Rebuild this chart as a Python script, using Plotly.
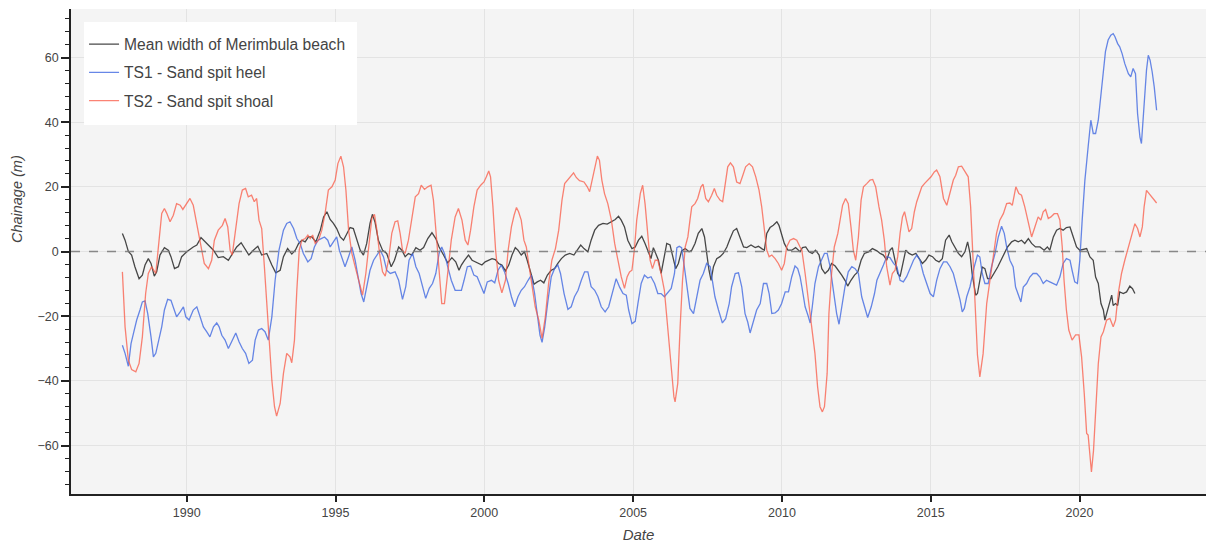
import pandas as pd
import plotly.graph_objects as go

# Series readings: (decimal year, chainage in metres)
mean_width = [
    (1987.84, 5.6), (1987.93, 3.5), (1988.04, 0.0), (1988.15, -1.1), (1988.26, -4.7), (1988.40, -8.4),
    (1988.51, -7.3), (1988.60, -4.2), (1988.71, -2.2), (1988.80, -3.7), (1988.91, -7.6), (1988.99, -6.3),
    (1989.10, -1.1), (1989.25, 1.2), (1989.38, 0.4), (1989.47, -1.6), (1989.59, -5.3), (1989.72, -4.7),
    (1989.83, -1.6), (1990.00, -0.1), (1990.22, 1.4), (1990.34, 2.0), (1990.48, 4.3), (1990.62, 3.0),
    (1990.78, 1.4), (1990.90, 0.4), (1991.06, -1.9), (1991.23, -1.6), (1991.40, -2.7), (1991.53, -0.8),
    (1991.68, 1.4), (1991.83, 2.7), (1991.96, 0.9), (1992.09, -1.1), (1992.24, 0.4), (1992.39, 1.6),
    (1992.52, -1.1), (1992.69, -0.6), (1992.86, -4.2), (1992.99, -6.6), (1993.14, -5.8), (1993.25, -1.6),
    (1993.39, 0.9), (1993.53, -0.8), (1993.65, 0.4), (1993.76, 2.5), (1993.87, 3.5), (1993.98, 3.0),
    (1994.09, 4.5), (1994.20, 4.5), (1994.34, 3.0), (1994.49, 6.6), (1994.60, 10.7), (1994.71, 12.3),
    (1994.82, 9.9), (1994.93, 8.7), (1995.04, 7.1), (1995.16, 4.5), (1995.27, 3.5), (1995.38, 5.6),
    (1995.49, 7.4), (1995.60, 7.1), (1995.72, 3.5), (1995.83, 0.4), (1995.94, -1.1), (1996.05, 2.5),
    (1996.16, 8.7), (1996.24, 11.5), (1996.33, 9.0), (1996.44, 3.5), (1996.58, 0.4), (1996.72, -0.6),
    (1996.87, -4.7), (1996.98, -2.7), (1997.12, 1.4), (1997.23, 0.4), (1997.34, -1.6), (1997.45, -0.6),
    (1997.56, -1.1), (1997.70, 1.2), (1997.84, 0.4), (1997.96, 1.2), (1998.10, 4.0), (1998.24, 5.8),
    (1998.37, 4.0), (1998.48, 1.4), (1998.63, -1.1), (1998.77, -3.5), (1998.91, -1.9), (1999.04, -3.2),
    (1999.15, -5.8), (1999.23, -4.2), (1999.34, -2.7), (1999.47, -1.1), (1999.59, -2.7), (1999.70, -3.2),
    (1999.81, -3.7), (1999.92, -4.2), (2000.03, -3.2), (2000.15, -2.7), (2000.26, -2.2), (2000.37, -2.5),
    (2000.48, -3.7), (2000.59, -4.2), (2000.71, -6.0), (2000.82, -4.2), (2000.93, -1.1), (2001.04, 1.2),
    (2001.13, 0.4), (2001.24, -1.1), (2001.35, -0.1), (2001.44, -2.7), (2001.56, -6.8), (2001.67, -10.1),
    (2001.78, -9.4), (2001.89, -8.9), (2002.00, -9.7), (2002.12, -7.3), (2002.25, -5.8), (2002.36, -5.3),
    (2002.47, -3.7), (2002.59, -2.2), (2002.72, -1.1), (2002.87, -0.6), (2003.01, -1.1), (2003.15, 0.9),
    (2003.24, 2.0), (2003.35, 0.9), (2003.48, -0.1), (2003.59, 3.5), (2003.71, 6.6), (2003.84, 8.1),
    (2003.99, 8.7), (2004.13, 8.5), (2004.27, 9.2), (2004.40, 9.9), (2004.51, 10.9), (2004.60, 9.7),
    (2004.71, 7.6), (2004.82, 3.5), (2004.96, 0.9), (2005.07, 1.4), (2005.18, 3.5), (2005.29, 4.7),
    (2005.40, 2.5), (2005.52, -0.6), (2005.60, -2.2), (2005.68, 1.2), (2005.76, -0.6), (2005.85, -2.7),
    (2005.94, -6.8), (2006.02, -2.7), (2006.13, 2.5), (2006.24, 2.0), (2006.35, -2.7), (2006.43, -5.3),
    (2006.52, -3.7), (2006.63, 0.2), (2006.75, 0.9), (2006.88, -0.1), (2006.97, 0.4), (2007.08, 2.5),
    (2007.19, 5.6), (2007.31, 7.1), (2007.40, 4.5), (2007.47, -0.6), (2007.55, -5.8), (2007.62, -8.9),
    (2007.70, -4.7), (2007.81, -2.2), (2007.92, -1.6), (2008.03, -0.6), (2008.15, 1.4), (2008.26, 4.0),
    (2008.37, 6.4), (2008.48, 7.1), (2008.59, 4.5), (2008.71, 1.4), (2008.82, 1.2), (2008.96, 2.0),
    (2009.10, 1.2), (2009.21, 1.6), (2009.32, 0.9), (2009.41, 0.4), (2009.49, 5.6), (2009.60, 7.4),
    (2009.71, 8.1), (2009.83, 9.2), (2009.90, 8.1), (2009.99, 5.1), (2010.08, 2.5), (2010.20, 0.4),
    (2010.33, 0.4), (2010.46, 1.2), (2010.61, -0.1), (2010.69, 1.2), (2010.80, 1.4), (2010.91, -0.1),
    (2011.02, -0.6), (2011.13, 0.4), (2011.25, -1.1), (2011.34, -5.3), (2011.45, -6.8), (2011.56, -5.8),
    (2011.67, -3.7), (2011.79, -4.5), (2011.90, -5.8), (2012.01, -7.3), (2012.12, -8.9), (2012.21, -10.7),
    (2012.32, -8.9), (2012.44, -7.3), (2012.55, -6.3), (2012.66, -2.7), (2012.77, -0.6), (2012.91, -0.1),
    (2013.04, 0.9), (2013.19, 0.2), (2013.30, -0.6), (2013.41, -1.1), (2013.52, -2.7), (2013.63, 0.4),
    (2013.71, 1.2), (2013.80, -3.2), (2013.89, -6.8), (2013.97, -7.8), (2014.05, -4.7), (2014.16, 0.4),
    (2014.27, -0.6), (2014.38, -1.1), (2014.50, -0.6), (2014.61, -2.2), (2014.72, -3.7), (2014.83, -2.7),
    (2014.94, -1.1), (2015.06, -1.6), (2015.17, -2.7), (2015.28, -3.2), (2015.39, -2.2), (2015.50, 3.5),
    (2015.62, 5.1), (2015.71, 3.0), (2015.82, 1.4), (2015.93, -0.6), (2016.04, -1.6), (2016.15, -0.1),
    (2016.24, 3.0), (2016.32, -0.6), (2016.39, -6.8), (2016.51, -13.5), (2016.57, -13.0), (2016.65, -8.9),
    (2016.73, -4.8), (2016.82, -5.3), (2016.91, -8.4), (2017.02, -8.4), (2017.13, -6.8), (2017.25, -4.8),
    (2017.36, -2.7), (2017.47, -0.6), (2017.58, 1.4), (2017.72, 3.0), (2017.83, 3.5), (2017.94, 3.0),
    (2018.05, 3.5), (2018.16, 2.5), (2018.28, 4.0), (2018.39, 2.5), (2018.52, 1.4), (2018.67, 1.4),
    (2018.81, 0.4), (2018.92, 1.4), (2019.00, 0.4), (2019.12, 4.5), (2019.23, 6.6), (2019.34, 7.1),
    (2019.45, 6.6), (2019.56, 7.4), (2019.68, 7.6), (2019.79, 4.5), (2019.90, 1.4), (2020.01, 0.4),
    (2020.12, 0.6), (2020.24, 0.9), (2020.35, -1.7), (2020.46, -2.7), (2020.54, -7.9), (2020.63, -9.9),
    (2020.72, -16.1), (2020.80, -18.1), (2020.85, -21.2), (2020.94, -18.1), (2021.02, -15.1), (2021.08, -13.5),
    (2021.13, -16.7), (2021.21, -16.1), (2021.28, -16.7), (2021.35, -12.5), (2021.47, -13.0), (2021.58, -12.5),
    (2021.69, -10.7), (2021.78, -11.5), (2021.86, -13.0),
]

ts1_heel = [
    (1987.84, -29.0), (1987.93, -31.5), (1988.04, -35.5), (1988.13, -28.5), (1988.21, -25.4), (1988.32, -21.2),
    (1988.43, -18.1), (1988.51, -15.6), (1988.60, -15.3), (1988.69, -19.2), (1988.80, -26.4), (1988.88, -32.6),
    (1988.96, -31.5), (1989.07, -26.9), (1989.16, -23.3), (1989.25, -18.1), (1989.36, -14.8), (1989.47, -15.1),
    (1989.55, -17.1), (1989.66, -20.2), (1989.78, -18.7), (1989.89, -17.1), (1989.97, -20.2), (1990.08, -21.2),
    (1990.22, -18.1), (1990.34, -17.1), (1990.45, -20.2), (1990.56, -23.3), (1990.67, -24.8), (1990.78, -26.4),
    (1990.90, -23.3), (1991.01, -22.1), (1991.09, -23.3), (1991.18, -25.9), (1991.29, -27.4), (1991.40, -30.0),
    (1991.51, -27.9), (1991.65, -25.2), (1991.76, -27.9), (1991.87, -30.0), (1991.98, -31.5), (1992.09, -34.6),
    (1992.21, -33.6), (1992.30, -27.4), (1992.41, -24.3), (1992.52, -23.8), (1992.63, -24.8), (1992.74, -27.4),
    (1992.86, -20.2), (1992.97, -8.9), (1993.10, 0.4), (1993.25, 6.6), (1993.36, 8.7), (1993.47, 9.2),
    (1993.59, 7.1), (1993.70, 4.0), (1993.81, 2.5), (1993.92, -0.6), (1994.07, -3.2), (1994.18, -2.2),
    (1994.29, 1.4), (1994.41, 3.5), (1994.52, 4.0), (1994.63, 4.5), (1994.74, 3.5), (1994.82, 1.4),
    (1994.93, 3.0), (1995.04, 4.5), (1995.13, 0.4), (1995.24, -2.7), (1995.32, -4.7), (1995.44, -1.6),
    (1995.55, 1.4), (1995.66, -2.7), (1995.77, -8.9), (1995.86, -13.0), (1995.95, -15.6), (1996.05, -10.9),
    (1996.16, -5.8), (1996.28, -2.7), (1996.39, -1.1), (1996.50, 0.4), (1996.61, -1.6), (1996.72, -5.8),
    (1996.84, -6.8), (1997.00, -6.3), (1997.12, -8.9), (1997.25, -14.8), (1997.36, -10.9), (1997.47, -2.7),
    (1997.59, -0.6), (1997.70, -4.7), (1997.81, -6.8), (1997.92, -10.9), (1998.03, -14.5), (1998.15, -11.4),
    (1998.26, -9.9), (1998.37, -6.8), (1998.48, -0.6), (1998.57, 1.4), (1998.66, -0.6), (1998.77, -4.7),
    (1998.89, -8.9), (1999.02, -12.0), (1999.13, -12.0), (1999.23, -12.0), (1999.32, -8.9), (1999.43, -4.7),
    (1999.54, -4.5), (1999.65, -7.3), (1999.76, -7.8), (1999.88, -10.4), (1999.99, -13.0), (2000.10, -9.4),
    (2000.24, -8.9), (2000.35, -9.7), (2000.46, -5.8), (2000.57, -4.2), (2000.68, -6.3), (2000.80, -9.9),
    (2000.91, -14.0), (2001.02, -17.1), (2001.13, -14.0), (2001.24, -12.0), (2001.35, -10.9), (2001.47, -8.9),
    (2001.58, -7.3), (2001.69, -13.0), (2001.80, -21.2), (2001.87, -25.9), (2001.94, -28.1), (2002.03, -23.3),
    (2002.14, -15.1), (2002.25, -7.8), (2002.36, -5.3), (2002.47, -4.2), (2002.56, -6.8), (2002.68, -13.0),
    (2002.81, -17.9), (2002.92, -17.1), (2003.03, -14.0), (2003.15, -12.0), (2003.26, -8.9), (2003.37, -6.3),
    (2003.48, -6.3), (2003.59, -10.9), (2003.71, -12.0), (2003.82, -14.0), (2003.93, -17.1), (2004.06, -18.7),
    (2004.18, -17.1), (2004.29, -13.0), (2004.43, -8.4), (2004.55, -11.1), (2004.66, -13.0), (2004.77, -13.5),
    (2004.85, -18.1), (2004.96, -22.3), (2005.07, -21.6), (2005.16, -16.1), (2005.27, -9.9), (2005.38, -7.3),
    (2005.49, -8.2), (2005.60, -7.8), (2005.72, -9.9), (2005.83, -13.0), (2005.94, -13.0), (2006.05, -14.0),
    (2006.16, -12.8), (2006.28, -11.4), (2006.39, -6.8), (2006.47, 1.2), (2006.55, 1.6), (2006.63, 1.2),
    (2006.72, -4.7), (2006.80, -10.9), (2006.91, -17.6), (2007.03, -19.2), (2007.14, -14.0), (2007.25, -8.9),
    (2007.36, -6.8), (2007.47, -3.7), (2007.59, -4.7), (2007.67, -8.9), (2007.75, -14.0), (2007.87, -18.1),
    (2008.00, -22.1), (2008.11, -20.8), (2008.23, -16.1), (2008.31, -10.9), (2008.43, -6.8), (2008.54, -6.6),
    (2008.65, -10.9), (2008.76, -19.2), (2008.85, -21.8), (2008.93, -25.2), (2009.04, -21.2), (2009.15, -18.1),
    (2009.27, -16.1), (2009.38, -9.9), (2009.49, -9.9), (2009.57, -13.0), (2009.66, -19.2), (2009.77, -19.0),
    (2009.88, -18.1), (2009.99, -16.1), (2010.11, -12.5), (2010.22, -12.5), (2010.33, -7.8), (2010.44, -4.5),
    (2010.53, -5.3), (2010.61, -7.8), (2010.67, -10.9), (2010.78, -17.1), (2010.89, -20.2), (2010.95, -22.1),
    (2011.02, -17.1), (2011.11, -9.9), (2011.23, -4.7), (2011.34, -2.7), (2011.43, -0.6), (2011.52, -0.6),
    (2011.62, -4.7), (2011.73, -12.0), (2011.84, -19.2), (2011.92, -22.5), (2012.01, -17.6), (2012.12, -10.9),
    (2012.23, -6.3), (2012.35, -4.7), (2012.46, -5.3), (2012.57, -6.8), (2012.68, -14.0), (2012.79, -17.9),
    (2012.88, -20.4), (2013.00, -17.1), (2013.11, -13.0), (2013.19, -8.9), (2013.30, -6.8), (2013.41, -4.2),
    (2013.52, -1.6), (2013.63, -1.9), (2013.75, -3.7), (2013.86, -4.7), (2013.97, -8.9), (2014.08, -9.4),
    (2014.19, -7.8), (2014.31, -5.3), (2014.42, -2.7), (2014.53, -1.1), (2014.64, -2.7), (2014.75, -6.8),
    (2014.87, -9.9), (2014.98, -13.0), (2015.09, -14.0), (2015.20, -8.9), (2015.31, -5.3), (2015.43, -3.2),
    (2015.54, -3.2), (2015.65, -4.7), (2015.76, -6.8), (2015.87, -10.9), (2015.99, -15.1), (2016.06, -18.7),
    (2016.13, -17.6), (2016.21, -14.0), (2016.32, -10.9), (2016.46, -4.8), (2016.57, -1.1), (2016.65, -1.7),
    (2016.73, -6.8), (2016.82, -9.9), (2016.93, -9.9), (2017.04, -4.8), (2017.16, -0.6), (2017.27, 4.5),
    (2017.38, 7.8), (2017.47, 5.6), (2017.55, 1.4), (2017.66, -2.7), (2017.77, -4.8), (2017.85, -11.0),
    (2017.96, -14.0), (2018.03, -15.6), (2018.11, -11.0), (2018.22, -9.9), (2018.33, -7.9), (2018.44, -6.8),
    (2018.56, -6.8), (2018.67, -7.9), (2018.78, -9.9), (2018.89, -8.9), (2019.00, -9.4), (2019.12, -9.9),
    (2019.23, -10.4), (2019.34, -7.9), (2019.45, -3.7), (2019.56, -2.2), (2019.68, -2.7), (2019.75, -5.8),
    (2019.84, -9.4), (2019.93, -9.9), (2020.01, -2.7), (2020.09, 9.7), (2020.18, 22.0), (2020.29, 32.4),
    (2020.38, 40.6), (2020.46, 36.5), (2020.54, 36.5), (2020.63, 40.6), (2020.72, 48.8), (2020.80, 55.0),
    (2020.87, 61.8), (2020.96, 65.4), (2021.05, 66.9), (2021.13, 67.4), (2021.19, 66.4), (2021.28, 64.3),
    (2021.35, 63.3), (2021.43, 61.2), (2021.52, 58.1), (2021.64, 55.0), (2021.72, 54.0), (2021.80, 56.6),
    (2021.88, 55.0), (2021.95, 42.6), (2022.03, 35.4), (2022.08, 33.4), (2022.16, 45.7), (2022.25, 56.1),
    (2022.31, 60.7), (2022.37, 59.2), (2022.44, 55.6), (2022.51, 50.9), (2022.59, 43.7),
]

ts2_shoal = [
    (1987.84, -6.3), (1987.93, -23.3), (1988.04, -33.6), (1988.15, -36.5), (1988.29, -37.2), (1988.40, -34.6),
    (1988.51, -26.4), (1988.62, -13.0), (1988.71, -6.8), (1988.82, -4.7), (1988.96, -6.8), (1989.07, 3.5),
    (1989.16, 11.8), (1989.25, 13.3), (1989.33, 11.8), (1989.44, 9.2), (1989.55, 11.2), (1989.66, 14.8),
    (1989.78, 14.3), (1989.87, 13.0), (1990.00, 14.8), (1990.11, 16.4), (1990.22, 14.3), (1990.34, 8.7),
    (1990.48, 2.5), (1990.59, -3.7), (1990.73, -5.3), (1990.84, -2.7), (1990.93, 3.5), (1991.06, 6.6),
    (1991.20, 8.1), (1991.29, 10.2), (1991.38, 7.6), (1991.46, 0.4), (1991.53, -1.1), (1991.65, 6.6),
    (1991.76, 14.8), (1991.87, 19.0), (1991.98, 19.5), (1992.07, 16.9), (1992.18, 17.4), (1992.27, 15.4),
    (1992.35, 16.4), (1992.43, 9.7), (1992.52, 7.1), (1992.61, -4.7), (1992.69, -17.1), (1992.77, -29.5),
    (1992.86, -39.8), (1992.95, -48.0), (1993.02, -50.9), (1993.14, -47.0), (1993.25, -37.7), (1993.36, -31.5),
    (1993.47, -32.6), (1993.53, -34.4), (1993.62, -27.4), (1993.70, -12.0), (1993.78, 0.4), (1993.87, 3.5),
    (1993.98, 4.0), (1994.07, 5.1), (1994.15, 4.0), (1994.23, 5.1), (1994.32, 2.5), (1994.43, 3.5),
    (1994.54, 6.6), (1994.65, 11.8), (1994.76, 19.0), (1994.88, 20.0), (1994.99, 22.1), (1995.08, 27.2),
    (1995.18, 29.5), (1995.27, 26.2), (1995.35, 19.0), (1995.44, 6.6), (1995.55, -0.6), (1995.66, -4.7),
    (1995.80, -9.9), (1995.91, -13.5), (1996.02, -6.8), (1996.13, 3.5), (1996.22, 10.2), (1996.31, 11.5),
    (1996.39, 6.6), (1996.48, -0.6), (1996.58, -6.3), (1996.67, -7.6), (1996.78, -2.7), (1996.89, 5.6),
    (1997.00, 9.2), (1997.09, 9.5), (1997.17, 5.6), (1997.25, 0.4), (1997.34, -0.6), (1997.45, 3.5),
    (1997.56, 10.2), (1997.68, 16.9), (1997.79, 17.9), (1997.88, 20.5), (1997.99, 19.2), (1998.10, 20.0),
    (1998.21, 20.5), (1998.29, 15.9), (1998.40, 3.5), (1998.48, -6.8), (1998.57, -16.1), (1998.66, -16.1),
    (1998.77, -6.8), (1998.89, 3.5), (1999.02, 10.7), (1999.13, 13.3), (1999.25, 9.7), (1999.36, 3.5),
    (1999.45, 2.0), (1999.54, 6.6), (1999.65, 13.8), (1999.76, 19.0), (1999.88, 20.5), (1999.99, 21.5),
    (2000.07, 23.1), (2000.15, 24.9), (2000.21, 23.1), (2000.29, 13.8), (2000.38, 0.4), (2000.48, -8.9),
    (2000.59, -12.8), (2000.71, -8.9), (2000.80, 0.4), (2000.91, 7.6), (2001.00, 11.2), (2001.08, 13.6),
    (2001.15, 12.3), (2001.24, 9.7), (2001.33, 3.5), (2001.41, 1.4), (2001.49, -3.7), (2001.60, -10.9),
    (2001.71, -17.1), (2001.83, -21.2), (2001.94, -26.9), (2002.05, -20.2), (2002.16, -9.9), (2002.27, -2.7),
    (2002.39, 0.9), (2002.50, 6.6), (2002.61, 15.9), (2002.70, 21.0), (2002.81, 22.1), (2002.92, 23.3),
    (2003.00, 24.3), (2003.09, 22.9), (2003.20, 21.9), (2003.35, 21.5), (2003.46, 20.0), (2003.54, 18.5),
    (2003.62, 22.1), (2003.71, 26.2), (2003.80, 29.5), (2003.87, 28.2), (2003.95, 22.1), (2004.04, 17.9),
    (2004.15, 14.8), (2004.27, 9.7), (2004.38, 2.5), (2004.49, -2.7), (2004.60, -7.8), (2004.71, -11.4),
    (2004.80, -7.8), (2004.88, -6.3), (2004.96, -5.8), (2005.04, 0.4), (2005.12, 9.7), (2005.24, 17.9),
    (2005.32, 20.5), (2005.40, 14.8), (2005.49, 5.6), (2005.57, -2.7), (2005.65, -5.3), (2005.74, -2.7),
    (2005.83, -2.7), (2005.94, -6.8), (2006.05, -12.0), (2006.16, -23.3), (2006.28, -36.7), (2006.37, -44.9),
    (2006.41, -46.5), (2006.50, -40.8), (2006.58, -23.3), (2006.66, -8.9), (2006.75, 1.4), (2006.84, 4.5),
    (2006.91, 9.7), (2006.97, 13.8), (2007.08, 14.8), (2007.17, 16.4), (2007.28, 20.0), (2007.35, 20.8),
    (2007.44, 16.4), (2007.53, 15.4), (2007.64, 17.4), (2007.73, 19.5), (2007.81, 17.4), (2007.92, 15.9),
    (2008.01, 15.4), (2008.09, 20.0), (2008.18, 26.2), (2008.27, 27.4), (2008.37, 26.2), (2008.48, 21.5),
    (2008.59, 21.0), (2008.67, 23.1), (2008.78, 26.2), (2008.90, 27.2), (2009.01, 26.2), (2009.12, 23.1),
    (2009.23, 19.0), (2009.32, 13.8), (2009.41, 5.6), (2009.49, 0.4), (2009.57, -1.6), (2009.66, -1.1),
    (2009.77, -2.2), (2009.88, -3.7), (2009.99, -5.8), (2010.08, -3.7), (2010.16, 1.4), (2010.27, 3.5),
    (2010.39, 4.0), (2010.50, 3.5), (2010.61, 1.4), (2010.67, 0.4), (2010.78, -6.8), (2010.89, -15.1),
    (2011.00, -23.3), (2011.11, -31.5), (2011.20, -41.9), (2011.28, -48.0), (2011.36, -49.6), (2011.43, -48.0),
    (2011.52, -37.7), (2011.58, -19.2), (2011.67, -6.8), (2011.76, 1.4), (2011.88, 5.6), (2011.95, 9.7),
    (2012.04, 14.3), (2012.14, 16.4), (2012.23, 14.8), (2012.32, 7.6), (2012.40, 0.4), (2012.48, -2.7),
    (2012.57, 4.5), (2012.66, 15.9), (2012.74, 20.0), (2012.85, 21.0), (2012.96, 22.1), (2013.05, 22.3),
    (2013.15, 20.0), (2013.26, 13.8), (2013.35, 9.7), (2013.44, 3.5), (2013.52, -4.7), (2013.63, -10.4),
    (2013.71, -6.8), (2013.80, -5.8), (2013.89, -1.6), (2013.97, 5.6), (2014.05, 10.7), (2014.12, 12.3),
    (2014.19, 9.7), (2014.27, 6.1), (2014.36, 7.1), (2014.45, 12.3), (2014.53, 15.4), (2014.61, 17.4),
    (2014.70, 20.0), (2014.79, 21.0), (2014.90, 22.1), (2015.01, 23.1), (2015.12, 24.6), (2015.20, 25.2),
    (2015.31, 23.1), (2015.43, 16.4), (2015.54, 14.3), (2015.65, 18.5), (2015.76, 22.1), (2015.84, 23.6),
    (2015.93, 26.2), (2016.04, 26.4), (2016.15, 24.6), (2016.26, 23.1), (2016.34, 14.0), (2016.42, -2.0),
    (2016.50, -18.0), (2016.57, -32.0), (2016.65, -38.8), (2016.76, -31.6), (2016.88, -16.1), (2016.99, -8.9),
    (2017.10, -0.6), (2017.21, 5.6), (2017.32, 9.7), (2017.44, 11.7), (2017.55, 14.8), (2017.66, 15.0),
    (2017.74, 14.3), (2017.81, 17.9), (2017.86, 20.0), (2017.96, 17.9), (2018.05, 17.4), (2018.16, 13.8),
    (2018.28, 8.6), (2018.39, 4.5), (2018.50, 7.6), (2018.61, 10.7), (2018.70, 9.7), (2018.78, 12.3),
    (2018.86, 13.0), (2018.95, 10.2), (2019.04, 10.7), (2019.15, 11.7), (2019.26, 11.7), (2019.34, 9.7),
    (2019.42, 1.4), (2019.48, -8.9), (2019.56, -18.1), (2019.64, -24.3), (2019.75, -27.4), (2019.87, -25.8),
    (2019.98, -25.8), (2020.07, -32.6), (2020.16, -44.0), (2020.24, -56.3), (2020.29, -56.8), (2020.35, -62.5),
    (2020.40, -68.2), (2020.47, -61.5), (2020.55, -47.1), (2020.63, -34.7), (2020.72, -26.4), (2020.80, -24.8),
    (2020.91, -21.2), (2021.02, -20.7), (2021.13, -23.3), (2021.21, -21.2), (2021.30, -13.0), (2021.41, -6.8),
    (2021.52, -2.7), (2021.64, 1.4), (2021.75, 5.6), (2021.86, 8.6), (2021.95, 7.1), (2022.03, 4.5),
    (2022.11, 7.6), (2022.17, 13.8), (2022.25, 18.9), (2022.34, 17.9), (2022.42, 16.9), (2022.51, 15.9),
    (2022.59, 15.0),
]

series_names = ["Mean width of Merimbula beach", "TS1 - Sand spit heel", "TS2 - Sand spit shoal"]
series_colors = ["rgba(40,40,40,0.85)", "rgba(65,105,225,0.8)", "rgba(250,90,70,0.75)"]

x_range_years = [1986.112, 2024.25]
y_range = [-75, 75]


def to_date(decimal_year):
    year = int(decimal_year)
    start = pd.Timestamp(year=year, month=1, day=1)
    end = pd.Timestamp(year=year + 1, month=1, day=1)
    return start + (end - start) * (decimal_year - year)


FONT = "Liberation Sans, Arial, sans-serif"
TEXT = "#444444"

fig = go.Figure()
for i, (name, color, rows) in enumerate(zip(series_names, series_colors,
                                             [mean_width, ts1_heel, ts2_shoal])):
    fig.add_trace(go.Scatter(
        x=[to_date(t) for t, _ in rows],
        y=[v for _, v in rows],
        mode="lines",
        name=name,
        legendgroup=f"g{i}",
        line=dict(color=color, width=1.3),
    ))

# zero reference line
fig.add_hline(y=0, line=dict(color="rgba(125,125,125,0.9)", width=1.5, dash="dash"), layer="above")

# white panel behind the legend entries
fig.add_shape(type="rect", xref="paper", yref="paper",
              x0=0.0115, x1=0.252, y0=0.761, y1=0.973,
              fillcolor="white", line=dict(width=0), layer="above")

# y-axis title
fig.add_annotation(
    text="<i>Chainage (m)</i>", textangle=-90,
    xref="paper", yref="paper", x=-0.0476, y=0.608,
    xanchor="center", yanchor="middle", showarrow=False,
    font=dict(family=FONT, size=14.5, color=TEXT),
)

fig.update_layout(
    width=1206,
    height=545,
    margin=dict(l=71, r=0, t=9, b=51),
    paper_bgcolor="white",
    plot_bgcolor="#f4f4f4",
    font=dict(family=FONT, color=TEXT, size=12.5),
    showlegend=True,
    legend=dict(
        x=0.0115, y=0.962, xanchor="left", yanchor="top",
        bgcolor="rgba(0,0,0,0)", borderwidth=0,
        font=dict(family=FONT, size=15.6, color=TEXT),
        traceorder="grouped", tracegroupgap=5,
        itemwidth=30,
    ),
)

fig.update_xaxes(
    type="date",
    range=[to_date(x_range_years[0]), to_date(x_range_years[1])],
    tick0="1990-01-01", dtick="M60", tickformat="%Y",
    showgrid=True, gridcolor="#e3e3e3", gridwidth=1,
    zeroline=False,
    showline=True, linecolor="#222222", linewidth=1.5,
    ticks="outside", ticklen=6, tickcolor="#222222", tickwidth=1.5,
    tickfont=dict(size=12.5, color=TEXT),
    title=dict(text="<i>Date</i>", font=dict(size=15, color=TEXT), standoff=11),
)

fig.update_yaxes(
    range=y_range,
    tick0=0, dtick=20,
    showgrid=True, gridcolor="#e3e3e3", gridwidth=1,
    zeroline=False,
    showline=True, linecolor="#222222", linewidth=1.5,
    ticks="outside", ticklen=8, tickcolor="#222222", tickwidth=1.5,
    minor=dict(dtick=4, tick0=0, ticks="outside", ticklen=4, tickcolor="#222222",
               tickwidth=1.2, showgrid=False),
    tickfont=dict(size=12.5, color=TEXT),
)

fig.write_html("out.html")
